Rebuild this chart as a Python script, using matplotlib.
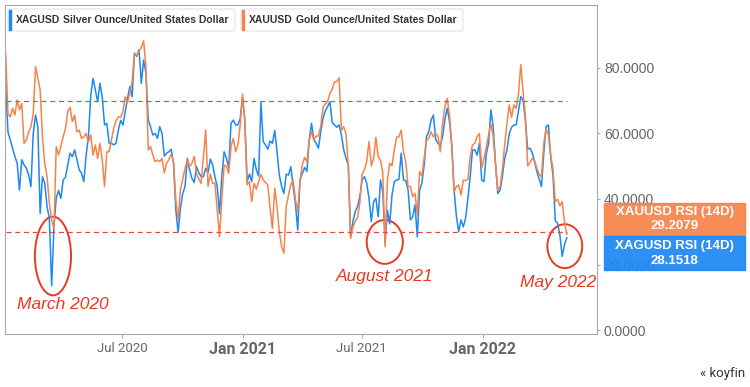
import numpy as np
import pandas as pd
import matplotlib
matplotlib.use("Agg")
import matplotlib.pyplot as plt
import matplotlib.dates as mdates
from matplotlib.patches import Ellipse, FancyBboxPatch, Rectangle

# RSI(14D) readings twice a week
silver_rsi = [
    75, 60.5, 58, 55.5, 53, 51, 42.7, 52, 50.4, 49.4,
    47.3, 43.8, 60, 65.6, 62, 35.6, 46.8, 44.8, 37.7, 34,
    13.5, 31.5, 40.4, 42.6, 40.2, 45.8, 46.6, 50.4, 54, 52.9,
    55, 52, 48.9, 47.8, 45.3, 53.4, 59, 71.7, 76.8, 73.3,
    69.7, 75.3, 71.2, 62.6, 63.1, 57, 57, 56.5, 57, 61,
    64, 62.6, 66.7, 70.7, 74.3, 71.2, 84.5, 83.5, 85.5, 75.3,
    82.4, 78.4, 64.1, 62.1, 59.5, 60, 58.5, 62.1, 60, 53.1,
    54, 54.4, 55.2, 50.9, 36.6, 29.8, 37.2, 41.7, 43.8, 52.4,
    48.9, 46.3, 45, 49.9, 48, 46.8, 46.8, 49.4, 48, 52.2,
    50.4, 46.8, 43.8, 35.5, 47, 54.4, 52.4, 49.6, 63.1, 64.1,
    62.6, 62.6, 64.6, 71, 64, 45.3, 47.6, 45.3, 52.4, 48.9,
    47, 69.5, 57.5, 56.5, 55.2, 57.7, 57, 60.9, 54.4, 47.3,
    43.8, 41.7, 47.6, 47.3, 49.9, 43.8, 38.7, 30.5, 45.8, 47.8,
    49.6, 48.4, 58, 63.1, 58.2, 57, 55.5, 60.5, 64.6, 66.9,
    68.2, 69.7, 63.3, 62.6, 61.9, 62.6, 59.5, 55, 52.4, 50.4,
    28.5, 33.1, 36.1, 37.7, 40.7, 45.8, 46.8, 44.8, 40.2, 33.1,
    39.2, 40.2, 34.6, 45.8, 42, 26.5, 36.6, 32.4, 41.2, 45.3,
    45.8, 46, 54, 45.8, 45.6, 42.7, 33.6, 34.6, 38.2, 28.5,
    42.7, 44.8, 50.4, 59, 60.5, 64.1, 65.6, 58.2, 57, 56.3,
    59, 64.3, 67.7, 63.6, 56.5, 42.7, 34.8, 30, 33.6, 31.5,
    34.1, 40.2, 46.8, 55, 55, 53.4, 57, 45.8, 45.3, 53.7,
    57, 67.2, 62.1, 50.9, 41.7, 42.7, 46.8, 52.4, 55, 60,
    61.9, 62.6, 62.6, 67, 71.2, 70.2, 64.1, 55.2, 55.5, 54.1,
    51.4, 48.3, 46.1, 43.8, 54, 62.1, 62.6, 52.9, 47.3, 33.4,
    32.6, 29, 22.5, 26, 28.1518,
]
gold_rsi = [
    84.5, 66, 65, 67.7, 65.6, 70.2, 67.2, 69.2, 57, 58,
    60.5, 62, 66, 80.4, 76.8, 73.3, 59, 50.9, 46.8, 38.7,
    33.6, 31, 56, 53.4, 56, 59, 61.5, 66.7, 68, 63.6,
    65.6, 60.5, 61, 58.5, 59, 60, 57.5, 59.5, 53.4, 56.5,
    52.4, 57, 51.9, 43.8, 54.4, 54.4, 58, 61.6, 63.8, 65.1,
    64.9, 66.7, 71.2, 69.4, 72.3, 75.8, 84.5, 83.7, 85, 86.3,
    88.3, 80.4, 55, 56, 53.4, 51.4, 51.9, 51.4, 52.4, 48,
    50.9, 52, 53.7, 51.4, 39.7, 33.6, 42.8, 46, 49.4, 51.9,
    49.9, 50.9, 53, 47.8, 46, 44.8, 52.9, 61, 43.8, 47.6,
    44.8, 44.8, 36.6, 28.5, 40, 50.4, 49.9, 47.8, 56, 58.5,
    54.4, 56.5, 62.6, 72, 64.1, 44.3, 45.3, 39.2, 44.8, 43,
    45.3, 47.5, 45.8, 45, 44.3, 37.1, 31, 43.3, 37.7, 30,
    25.4, 23.5, 37.7, 41.2, 44.3, 45.8, 39.9, 36.1, 45.8, 50.4,
    52.7, 51.4, 58, 60.5, 58, 59.2, 59.2, 62.1, 68, 69,
    69.7, 72.3, 73.5, 75.8, 75.8, 77, 61, 62.1, 59.8, 49.9,
    28, 31.5, 33.1, 34.4, 38.7, 47.6, 48.9, 51.4, 57.5, 50.1,
    52.4, 58.8, 52.9, 51.7, 48, 25.4, 45.8, 50.9, 50.1, 55,
    58.8, 59, 61, 54.4, 51.3, 43.8, 43.8, 40.7, 41.7, 35.1,
    48.4, 47, 52.4, 58, 58.5, 60.5, 59, 60, 59.2, 54.4,
    63.1, 68.2, 70.7, 65.6, 56, 42.1, 43.8, 44.3, 41.2, 45.8,
    45.6, 46, 52.9, 56.5, 57, 59, 60, 49.4, 52.4, 55.8,
    59.5, 62.9, 59.2, 50.9, 42.7, 43.8, 48.9, 56.5, 63.1, 68.7,
    64.9, 68.7, 67.7, 72.1, 81, 72.8, 65.3, 50.1, 51.1, 52.4,
    51.7, 49.4, 47.4, 46.8, 57, 61.3, 59.5, 53.4, 49.1, 39.2,
    39.9, 37.9, 39.2, 33.1, 29.2079,
]
dates = pd.date_range("2020-01-06", periods=len(silver_rsi), freq="84h")

overbought, oversold = 70, 30
xticks = ["2020-07-01", "2021-01-01", "2021-07-01", "2022-01-01"]
xtick_labels = ["Jul 2020", "Jan 2021", "Jul 2021", "Jan 2022"]
yticks = [0, 20, 40, 60, 80]

# (centre date, centre value, width days, height value, label, label date, label value)
callouts = [
    ("2020-03-18", 22.6, 55, 24, "March 2020", "2020-04-02", 7.9),
    ("2021-08-05", 26.9, 55, 13.4, "August 2021", "2021-08-05", 16.2),
    ("2022-05-06", 25.6, 53, 13.4, "May 2022", "2022-04-26", 14.4),
]

BLUE = "#1e88f5"
ORANGE = "#f7834a"
RED = "#e63a22"
GRAY = "#666666"

fig = plt.figure(figsize=(7.5, 3.87), dpi=100)
ax = fig.add_axes([5 / 750, 53 / 387, 592 / 750, 329 / 387])

ax.plot(dates, silver_rsi, color=BLUE, lw=1.1)
ax.plot(dates, gold_rsi, color=ORANGE, lw=1.1)
ax.hlines(overbought, dates[0], dates[-1], colors="#3ea055", linestyles=(0, (4, 3)), lw=0.9)
ax.hlines(oversold, dates[0], dates[-1], colors="#e5483b", linestyles=(0, (4, 3)), lw=0.9)

ax.set_xlim(pd.Timestamp("2020-01-05"), pd.Timestamp("2022-06-24"))
ax.set_ylim(-1.2, 99.2)

for s in ax.spines.values():
    s.set_color("#a8a8a8")
    s.set_linewidth(0.8)

ax.yaxis.tick_right()
ax.set_yticks(yticks)
ax.set_yticklabels([f"{v:.4f}" for v in yticks], fontsize=10, color=GRAY,
                   family="Liberation Sans")
ax.tick_params(axis="y", length=2, color="#a8a8a8", pad=3)

ax.set_xticks([pd.Timestamp(d) for d in xticks])
ax.set_xticklabels(xtick_labels)
ax.tick_params(axis="x", length=3, color="#a8a8a8", pad=3)
for lab in ax.get_xticklabels():
    lab.set_color(GRAY)
    lab.set_family("Roboto")
    if lab.get_text().startswith("Jan"):
        lab.set_fontsize(11.5)
        lab.set_fontweight("bold")
    else:
        lab.set_fontsize(9.5)

# red callouts
for cd, cv, w, h, txt, td, tv in callouts:
    c = mdates.date2num(pd.Timestamp(cd))
    ax.add_patch(Ellipse((c, cv), w, h, fill=False, ec=RED, lw=1.4))
    ax.text(pd.Timestamp(td), tv, txt, color=RED, fontsize=12.5, style="italic",
            ha="center", va="center", family="Liberation Sans")

# legend chips at the top
chips = [(8, 235, BLUE, "XAGUSD", "Silver Ounce/United States Dollar"),
         (241, 463, ORANGE, "XAUUSD", "Gold Ounce/United States Dollar")]
for x0, x1, col, sym, name in chips:
    fig.patches.append(FancyBboxPatch((x0 / 750, (387 - 31) / 387), (x1 - x0) / 750, 22 / 387,
                                      boxstyle="round,pad=0,rounding_size=0.004",
                                      transform=fig.transFigure, fc="white", ec="#e4e4e4", lw=0.8))
    fig.patches.append(Rectangle(((x0 + 1) / 750, (387 - 30) / 387), 2 / 750, 20 / 387,
                                 transform=fig.transFigure, color=col))
    fig.text((x0 + 8) / 750, (387 - 20) / 387, sym, fontsize=7.5, fontweight="bold",
             color="#333333", va="center", family="Liberation Sans")
    fig.text((x0 + 55) / 750, (387 - 20) / 387, name, fontsize=7.5, fontweight="bold",
             color="#333333", va="center", family="Liberation Sans")

# last value boxes on the right
boxes = [(235, 32, ORANGE, "XAUUSD RSI (14D)", gold_rsi[-1]),
         (270, 34, BLUE, "XAGUSD RSI (14D)", silver_rsi[-1])]
for ybot, hgt, col, name, val in boxes:
    fig.patches.append(Rectangle((604 / 750, (387 - ybot) / 387), 141 / 750, hgt / 387,
                                 transform=fig.transFigure, color=col, alpha=0.93))
    fig.text(674.5 / 750, (387 - ybot + hgt * 0.72) / 387, name, color="white",
             fontsize=9.5, fontweight="bold", ha="center", va="center", family="Liberation Sans")
    fig.text(674.5 / 750, (387 - ybot + hgt * 0.27) / 387, f"{val:.4f}", color="white",
             fontsize=9.5, fontweight="bold", ha="center", va="center", family="Liberation Sans")

fig.text(745 / 750, (387 - 373) / 387, "\u00ab koyfin", fontsize=9.5, color="#333333",
         ha="right", va="center", family="Roboto")

fig.savefig("out.png", dpi=100)
